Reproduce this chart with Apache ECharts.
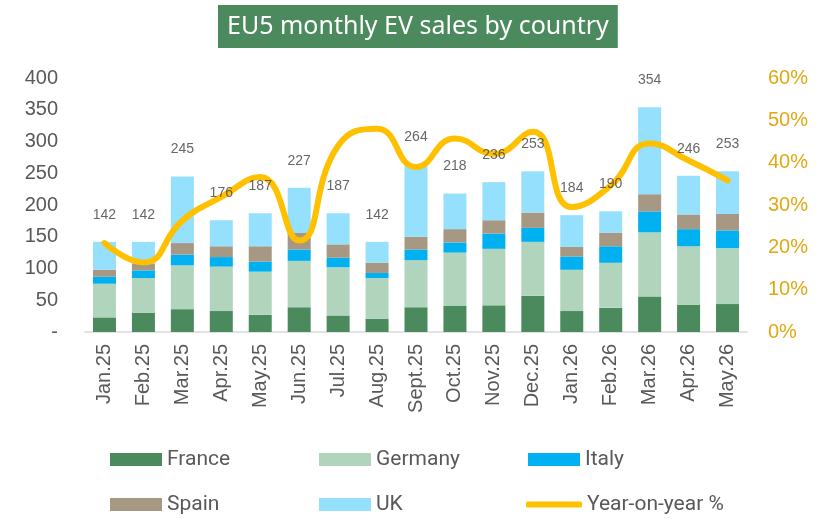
<!DOCTYPE html>
<html>
<head>
<meta charset="utf-8">
<script src="https://cdn.jsdelivr.net/npm/echarts@6/dist/echarts.min.js"></script>
<style>
  html, body { margin: 0; padding: 0; background: #fff; }
  #chart { width: 820px; height: 519px; }
</style>
</head>
<body>
<div id="chart"></div>
<script>
// values
var months = ['Jan.25', 'Feb.25', 'Mar.25', 'Apr.25', 'May.25', 'Jun.25', 'Jul.25', 'Aug.25', 'Sept.25',
    'Oct.25', 'Nov.25', 'Dec.25', 'Jan.26', 'Feb.26', 'Mar.26', 'Apr.26', 'May.26'];
var france  = [23, 30, 36, 33, 27, 39, 26, 21, 39, 41, 42, 57, 33, 38, 56, 43, 44];
var germany = [53, 55, 69, 70, 68, 73, 76, 64, 74, 84, 89, 85, 65, 71, 101, 92, 88];
var italy   = [11, 12, 17, 15, 16, 18, 15, 8, 17, 16, 24, 22, 21, 26, 33, 27, 28];
var spain   = [11, 11, 18, 17, 24, 26, 21, 16, 20, 21, 21, 24, 15, 21, 27, 23, 26];
var uk      = [44, 34, 105, 41, 52, 71, 49, 33, 114, 56, 60, 65, 50, 34, 137, 61, 67];
var yoy     = [21, 16.4, 26.3, 31.9, 36.6, 21.6, 44, 48, 39, 45.7, 42.1, 47.3, 29.5, 34.6, 44.5, 40.5, 35.8];
var leftTicks = [0, 400, 50];
var rightTicks = [0, 60, 10];

var totals = months.map(function (m, i) {
    return france[i] + germany[i] + italy[i] + spain[i] + uk[i];
});

var chart = echarts.init(document.getElementById('chart'));
var grey = '#595959';
var gold = '#E0A812';
var font = 'Liberation Sans, Arial, sans-serif';
var legendFont = 'Liberation Sans Narrow, Roboto, sans-serif';

function bar(name, data, color) {
    return {
        name: name, type: 'bar', stack: 'total', data: data, barWidth: 23,
        itemStyle: { color: color }
    };
}

function legendItem(name, left, top, isLine) {
    return {
        data: [name], left: left, top: top, padding: 0,
        itemWidth: isLine ? 56 : 52, itemHeight: isLine ? 6 : 13,
        icon: isLine ? 'roundRect' : 'rect',
        textStyle: { color: grey, fontSize: 21, fontFamily: legendFont }
    };
}

var option = {
    animation: false,
    title: {
        text: 'EU5 monthly EV sales by country',
        left: 218, top: 5,
        backgroundColor: '#4A8A5C',
        padding: [9, 9, 9, 9],
        textStyle: { color: '#fff', fontSize: 25, fontWeight: 'normal', fontFamily: 'Noto Sans, sans-serif' }
    },
    legend: [
        legendItem('France', 110, 449),
        legendItem('Germany', 319, 449),
        legendItem('Italy', 528, 449),
        legendItem('Spain', 110, 494),
        legendItem('UK', 319, 494),
        legendItem('Year-on-year %', 526, 494, true)
    ],
    grid: { left: 85, right: 73, top: 78, bottom: 187 },
    xAxis: {
        type: 'category', data: months,
        axisLine: { lineStyle: { color: '#D9D9D9', width: 1.5 } },
        axisTick: { length: 6, lineStyle: { color: '#D9D9D9', width: 1.5 } },
        axisLabel: { rotate: 90, color: grey, fontSize: 20, margin: 12, fontFamily: font }
    },
    yAxis: [{
        type: 'value', min: leftTicks[0], max: leftTicks[1], interval: leftTicks[2],
        splitLine: { show: false },
        axisLabel: {
            color: grey, fontSize: 20, margin: 27, fontFamily: font,
            formatter: function (v) { return v === 0 ? '-' : v; }
        }
    }, {
        type: 'value', min: rightTicks[0], max: rightTicks[1], interval: rightTicks[2],
        splitLine: { show: false },
        axisLabel: { color: gold, fontSize: 20, margin: 21, fontFamily: font, formatter: '{value}%' }
    }],
    series: [
        bar('France', france, '#4A8A5C'),
        bar('Germany', germany, '#B1D5BC'),
        bar('Italy', italy, '#00B0F0'),
        bar('Spain', spain, '#A69882'),
        bar('UK', uk, '#95E0FC'),
        {
            name: 'Year-on-year %', type: 'line', yAxisIndex: 1, data: yoy,
            smooth: 0.5, symbol: 'none', z: 4,
            lineStyle: { color: '#FFC000', width: 6, cap: 'round' },
            itemStyle: { color: '#FFC000' }
        },
        {
            name: 'Total', type: 'scatter', data: totals, symbolSize: 0, z: 10,
            label: {
                show: true, position: 'top', distance: 20,
                color: '#404040', fontSize: 14, fontFamily: font
            }
        }
    ]
};

chart.setOption(option);
</script>
</body>
</html>
